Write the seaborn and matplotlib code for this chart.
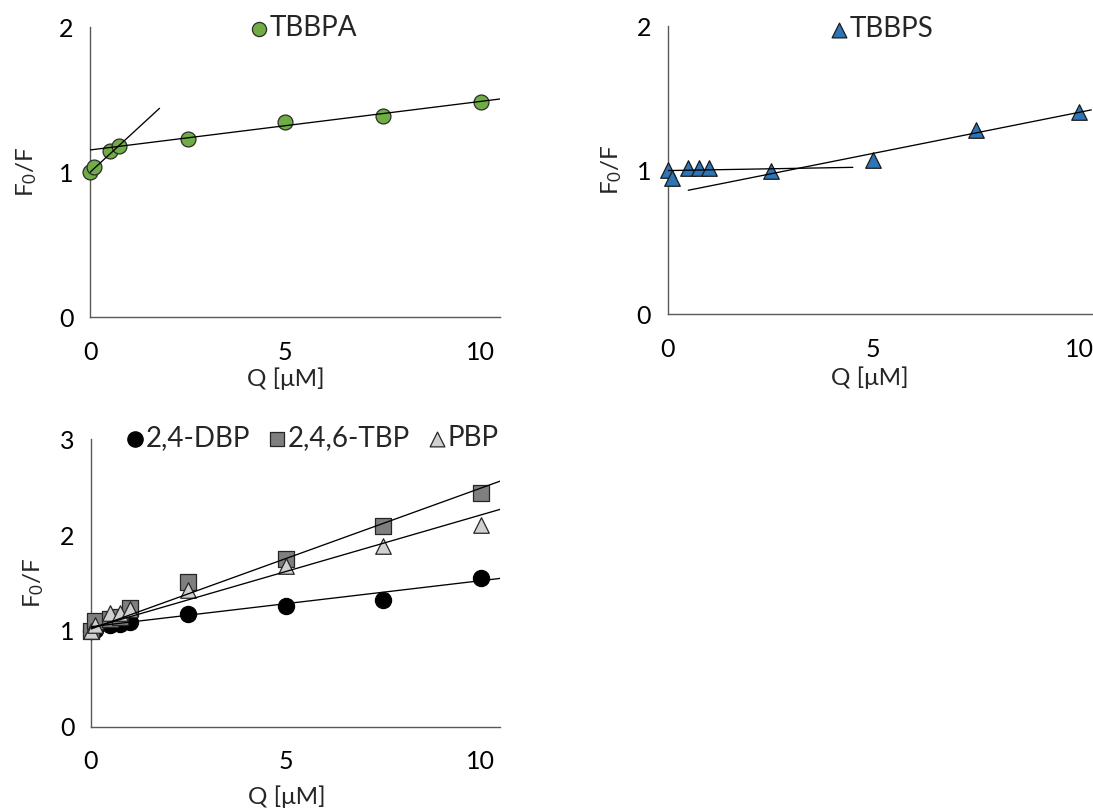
import numpy as np
import pandas as pd
import matplotlib
matplotlib.use("Agg")
import matplotlib.pyplot as plt
import seaborn as sns

# ---------------- data ----------------
q_tbbpa = [0, 0.1, 0.5, 0.75, 2.5, 5, 7.5, 10]
f_tbbpa = [1.00, 1.04, 1.145, 1.18, 1.228, 1.349, 1.391, 1.487]

q_tbbps = [0, 0.1, 0.5, 0.75, 1.0, 2.5, 5, 7.5, 10]
f_tbbps = [1.00, 0.945, 1.015, 1.015, 1.017, 0.997, 1.07, 1.279, 1.401]

q_bp = [0, 0.1, 0.5, 0.75, 1.0, 2.5, 5, 7.5, 10]
f_dbp = [1.00, 1.01, 1.06, 1.07, 1.09, 1.175, 1.26, 1.323, 1.549]
f_tbp = [1.00, 1.10, 1.12, 1.14, 1.24, 1.51, 1.751, 2.10, 2.443]
f_pbp = [1.00, 1.06, 1.19, 1.19, 1.23, 1.43, 1.678, 1.887, 2.106]

# trend lines: (x_start, x_end, slope, intercept)
fit_tbbpa = [(0.0, 10.5, 0.0335, 1.154), (0.0, 1.78, 0.248, 1.0)]
fit_tbbps = [(0.0, 4.5, 0.005, 0.997), (0.5, 10.3, 0.0569, 0.832)]
fit_bp = [(0.0, 10.5, 0.048, 1.044), (0.0, 10.5, 0.147, 1.02), (0.0, 10.5, 0.118, 1.03)]

x_ticks = [0, 5, 10]

# ---------------- style ----------------
sns.set_style("white")
plt.rcParams["font.family"] = ["Lato", "DejaVu Sans"]
plt.rcParams["mathtext.default"] = "regular"

W, H = 1093, 810
fig = plt.figure(figsize=(W / 100, H / 100), dpi=100)
fig.patch.set_facecolor("white")

SPINE = "#595959"


def make_ax(x0, x1, y0, y1):
    # pixel box -> figure fraction
    ax = fig.add_axes([x0 / W, 1 - y1 / H, (x1 - x0) / W, (y1 - y0) / H])
    ax.set_facecolor("none")
    for s in ["top", "right"]:
        ax.spines[s].set_visible(False)
    for s in ["left", "bottom"]:
        ax.spines[s].set_color(SPINE)
        ax.spines[s].set_linewidth(1.0)
    ax.tick_params(axis="both", which="major", direction="out", color=SPINE,
                   width=1.0, labelsize=18, labelcolor="black", length=6)
    ax.tick_params(axis="x", pad=10, length=7)
    ax.tick_params(axis="y", pad=6)
    ax.set_xlim(0, 10.5)
    ax.set_xticks(x_ticks)
    return ax


def draw_fits(ax, fits):
    for (xa, xb, m, b) in fits:
        xs = np.array([xa, xb])
        sns.lineplot(x=xs, y=m * xs + b, ax=ax, color="black", linewidth=0.95,
                     zorder=5, legend=False, estimator=None, sort=False)


def labels(ax, xl, yl):
    ax.set_xlabel("Q [μM]", fontsize=17.5)
    ax.set_ylabel("F$_0$/F", fontsize=17.5)
    ax.xaxis.set_label_coords(*xl)
    ax.yaxis.set_label_coords(*yl)
    ax.xaxis.label.set_va("center")
    ax.yaxis.label.set_va("center")


LEG = dict(frameon=False, fontsize=20, handlelength=0.5, handletextpad=0.15,
           borderpad=0, borderaxespad=0, markerscale=0.95)

# ---------- top-left: TBBPA ----------
ax1 = make_ax(90, 500.2, 27.3, 317.3)
ax1.set_ylim(0, 2)
ax1.set_yticks([0, 1, 2])
sns.scatterplot(x=q_tbbpa, y=f_tbbpa, ax=ax1, marker="o", s=115,
                color="#70AD47", edgecolor="#2b2b2b", linewidth=0.9,
                label="TBBPA", clip_on=False, zorder=3)
draw_fits(ax1, fit_tbbpa)
labels(ax1, (0.478, -0.21), (-0.155, 0.5))
ax1.legend(loc="center left", bbox_to_anchor=((252 - 90) / 410.2, (317.3 - 28) / 290), **LEG)

# ---------- top-right: TBBPS ----------
ax2 = make_ax(667.7, 1099.6, 26, 314.3)
ax2.set_ylim(0, 2)
ax2.set_yticks([0, 1, 2])
sns.scatterplot(x=q_tbbps, y=f_tbbps, ax=ax2, marker="^", s=125,
                color="#2E75B6", edgecolor="#1a1a1a", linewidth=0.9,
                label="TBBPS", clip_on=False, zorder=3)
draw_fits(ax2, fit_tbbps)
labels(ax2, (0.468, -0.22), (-0.13, 0.5))
ax2.legend(loc="center left", bbox_to_anchor=((832 - 667.7) / 431.9, (314.3 - 29) / 288.3), **LEG)

# ---------- bottom: bromophenols ----------
ax3 = make_ax(91, 500.2, 439.3, 726.7)
ax3.set_ylim(0, 3)
ax3.set_yticks([0, 1, 2, 3])
sns.scatterplot(x=q_bp, y=f_dbp, ax=ax3, marker="o", s=135, color="black",
                edgecolor="black", linewidth=0.9, label="2,4-DBP",
                clip_on=False, zorder=3)
sns.scatterplot(x=q_bp, y=f_tbp, ax=ax3, marker="s", s=125, color="#7F7F7F",
                edgecolor="#262626", linewidth=0.9, label="2,4,6-TBP",
                clip_on=False, zorder=3)
sns.scatterplot(x=q_bp, y=f_pbp, ax=ax3, marker="^", s=125, color="#D0D0D0",
                edgecolor="#262626", linewidth=0.9, label="PBP",
                clip_on=False, zorder=3)
draw_fits(ax3, fit_bp)
labels(ax3, (0.479, -0.245), (-0.14, 0.5))
ax3.legend(loc="center left", bbox_to_anchor=((128 - 91) / 409.2, (726.7 - 438) / 287.4),
           ncol=3, columnspacing=0.7, **LEG)

fig.savefig("out.png", dpi=100, facecolor="white")
